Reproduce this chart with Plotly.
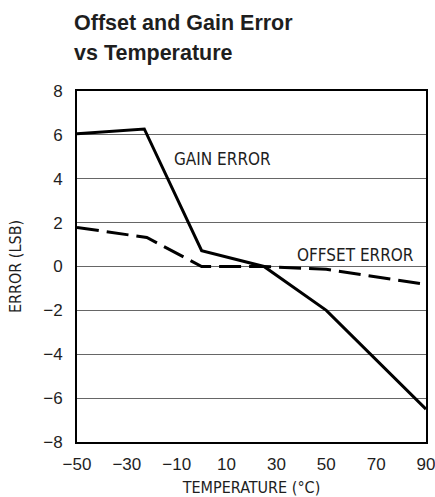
import plotly.graph_objects as go

# Temperature sweep (°C) and measured error (LSB)
gain_temp = [-50, -23, 0, 25, 50, 90]
gain_error = [6.05, 6.27, 0.72, 0.0, -2.0, -6.5]

offset_temp = [-50, -22, 0, 25, 50, 90]
offset_error = [1.78, 1.32, 0.0, 0.0, -0.13, -0.82]

x_ticks = [-50, -30, -10, 10, 30, 50, 70, 90]
y_ticks = [-8, -6, -4, -2, 0, 2, 4, 6, 8]

title_lines = ["Offset and Gain Error", "vs Temperature"]

LABEL_FONT = "DejaVu Sans Condensed, DejaVu Sans, sans-serif"
TICK_FONT = "Liberation Sans, Arial, sans-serif"
INK = "#1e1e1e"

fig = go.Figure()

fig.add_trace(go.Scatter(
    x=gain_temp, y=gain_error, mode="lines",
    line=dict(color="black", width=3),
    showlegend=False, hoverinfo="skip",
))
fig.add_trace(go.Scatter(
    x=offset_temp, y=offset_error, mode="lines",
    line=dict(color="black", width=3, dash="22px,8px"),
    showlegend=False, hoverinfo="skip",
))

fig.add_annotation(x=-11.7, y=4.9, text="GAIN ERROR", showarrow=False,
                   xanchor="left", yanchor="middle",
                   font=dict(family=LABEL_FONT, size=17, color=INK))
fig.add_annotation(x=86.1, y=0.53, text="OFFSET ERROR", showarrow=False,
                   xanchor="right", yanchor="middle",
                   font=dict(family=LABEL_FONT, size=17, color=INK))

# two-line heading above the plot area
for line, ypos in zip(title_lines, [1.195, 1.108]):
    fig.add_annotation(
        xref="paper", yref="paper", x=-5 / 349, y=ypos,
        text=f"<b>{line}</b>", showarrow=False,
        xanchor="left", yanchor="middle",
        font=dict(family=TICK_FONT, size=21.5, color=INK),
    )

fig.update_layout(
    width=435, height=497,
    margin=dict(l=77, r=9, t=91, b=55),
    paper_bgcolor="white", plot_bgcolor="white",
    font=dict(family=TICK_FONT, size=17, color=INK),
)

fig.update_xaxes(
    range=[-50, 90], tickvals=x_ticks, ticks="", showgrid=False,
    showline=True, linecolor="black", linewidth=2, mirror=True,
    zeroline=False, ticklabelstandoff=6, ticklabeloverflow="allow",
    automargin=False,
    title=dict(text="TEMPERATURE (°C)", standoff=8,
               font=dict(family=LABEL_FONT, size=16, color=INK)),
    tickfont=dict(family=TICK_FONT, size=17, color=INK),
)
fig.update_yaxes(
    range=[-8, 8], tickvals=y_ticks, ticks="",
    showgrid=True, gridcolor="#666", gridwidth=1.3,
    showline=True, linecolor="black", linewidth=2, mirror=True,
    zeroline=False, ticklabelstandoff=9, automargin=False,
    title=dict(text="ERROR (LSB)", standoff=18,
               font=dict(family=LABEL_FONT, size=16, color=INK)),
    tickfont=dict(family=TICK_FONT, size=17, color=INK),
)

fig.write_html("out.html")
